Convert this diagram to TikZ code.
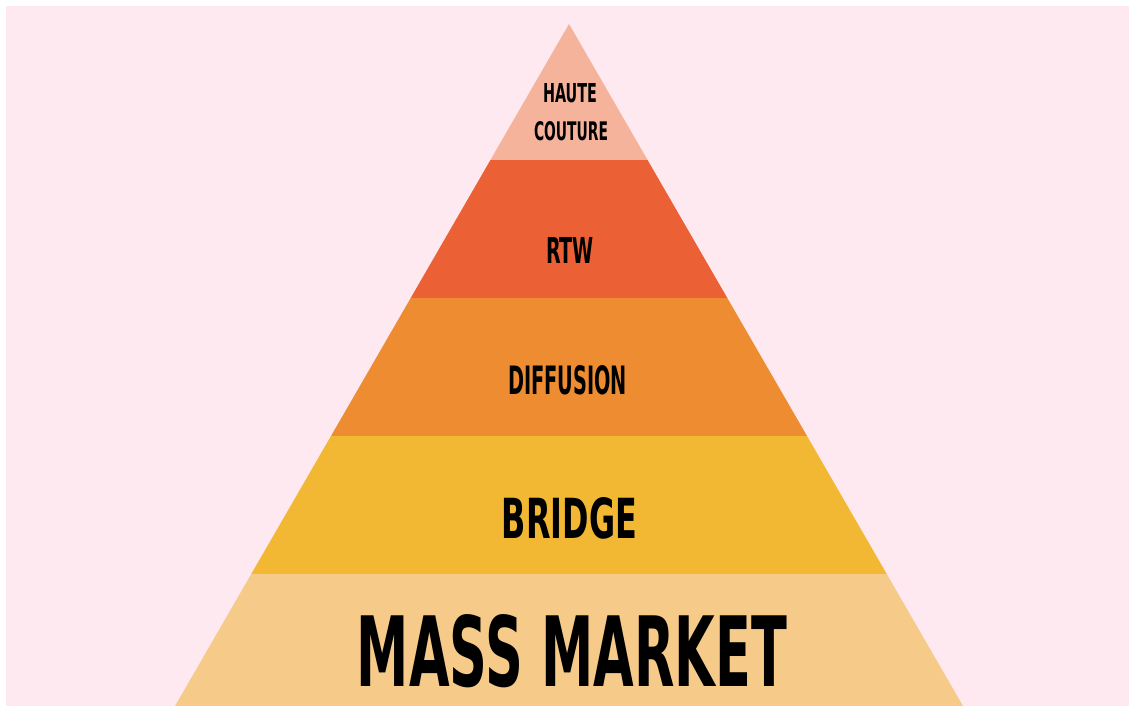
\documentclass[tikz,border=0pt]{standalone}
\usepackage{fontspec}
\setmainfont{DejaVu Sans}
\usetikzlibrary{calc}
\definecolor{bgpink}{HTML}{FDE9EF}
\definecolor{cHaute}{HTML}{F4B39A}
\definecolor{cRtw}{HTML}{EC6035}
\definecolor{cDiff}{HTML}{EE8C32}
\definecolor{cBridge}{HTML}{F2B733}
\definecolor{cMass}{HTML}{F6CB8A}
\newcommand\pyrtxt[3]{\resizebox{#1pt}{#2pt}{\bfseries #3}}
\tikzset{
  band/.style={draw=none},
  lbl/.style={inner sep=0pt, outer sep=0pt, text=black, anchor=center}
}
\begin{document}
\begin{tikzpicture}[x=1pt,y=-1pt]
\useasboundingbox (0,0) rectangle (1129,706);
\fill[white] (0,0) rectangle (1129,706);
\fill[bgpink] (6,6) rectangle (1129,706);
\coordinate (A) at (569,24);
\coordinate (BL) at (175,706);
\coordinate (BR) at (963,706);
\foreach \n/\t in {1/0.19941,2/0.40176,3/0.60411,4/0.80645}{
  \coordinate (L\n) at ($(A)!\t!(BL)$);
  \coordinate (R\n) at ($(A)!\t!(BR)$);
}
\fill[band,cHaute] (A) -- (R1) -- (L1) -- cycle;
\fill[band,cRtw] (L1) -- (R1) -- (R2) -- (L2) -- cycle;
\fill[band,cDiff] (L2) -- (R2) -- (R3) -- (L3) -- cycle;
\fill[band,cBridge] (L3) -- (R3) -- (R4) -- (L4) -- cycle;
\fill[band,cMass] (L4) -- (R4) -- (BR) -- (BL) -- cycle;
\node[lbl] (haute) at (570,93.5) {\pyrtxt{54}{19}{HAUTE}};
\node[lbl] (couture) at (571,131.5) {\pyrtxt{74}{19}{COUTURE}};
\node[lbl] (rtw) at (570,250) {\pyrtxt{48}{26}{RTW}};
\node[lbl] (diff) at (567.5,380.5) {\pyrtxt{119}{29}{DIFFUSION}};
\node[lbl] (bridge) at (569.5,518.5) {\pyrtxt{135}{41}{BRIDGE}};
\node[lbl] (mass) at (572,651) {\pyrtxt{430}{72}{MASS MARKET}};
\end{tikzpicture}
\end{document}
